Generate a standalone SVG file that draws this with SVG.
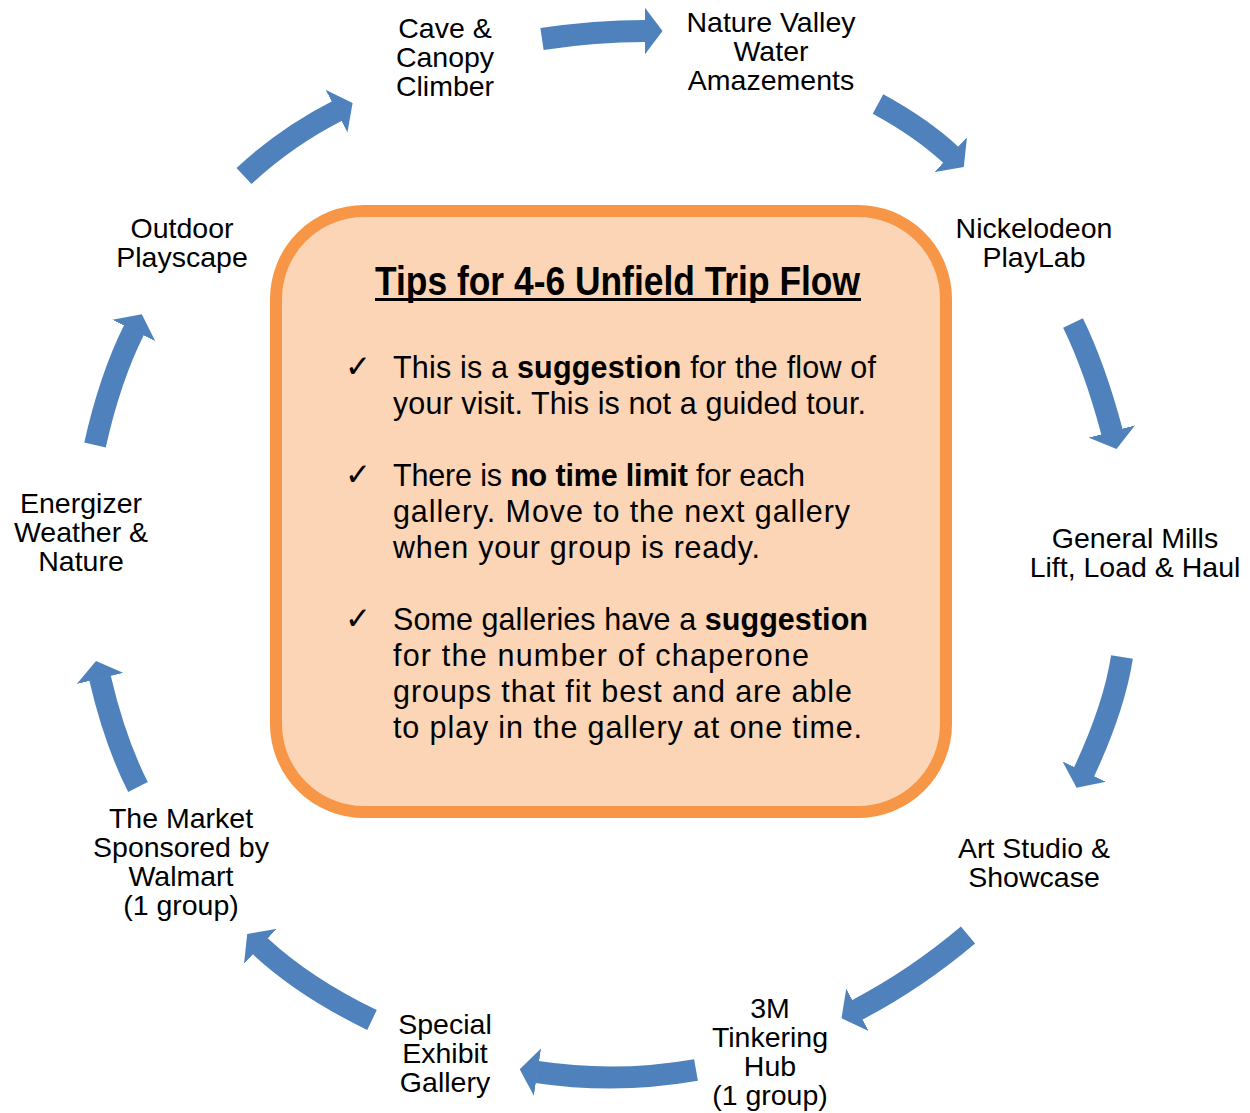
<svg xmlns="http://www.w3.org/2000/svg" width="1250" height="1113" viewBox="0 0 1250 1113">
<defs>
<marker id="head" markerUnits="userSpaceOnUse" markerWidth="18" markerHeight="48" viewBox="0 0 18 48" refX="0.5" refY="24" orient="auto">
<path d="M0,0 L18,24 L0,48 Z" fill="#4F81BD"/>
</marker>
<style>
.lbl{font-family:"Liberation Sans",Arial,sans-serif;font-size:28.5px;fill:#000;text-anchor:middle}
.body{font-family:"Liberation Sans",Arial,sans-serif;font-size:30.5px;fill:#000}
.chk{font-family:"DejaVu Sans",sans-serif;font-size:31px;fill:#000}
.arr{fill:none;stroke:#4F81BD;stroke-width:22;stroke-linecap:butt;marker-end:url(#head)}
</style>
</defs>
<rect width="1250" height="1113" fill="#fff"/>

<g id="tips">
<rect x="276" y="211" width="670" height="601" rx="88" ry="88" fill="#FBD5B5" stroke="#F79646" stroke-width="12"/>
<text x="375" y="295" textLength="485" lengthAdjust="spacingAndGlyphs" style="font-family:'Liberation Sans Narrow','Liberation Sans',Arial,sans-serif;font-size:40px;font-weight:bold;font-stretch:condensed" fill="#000">Tips for 4-6 Unfield Trip Flow</text>
<line x1="375" y1="299.5" x2="861" y2="299.5" stroke="#000" stroke-width="3"/>
<text class="chk" x="345" y="377">✓</text>
<text class="body" x="393" y="378" textLength="483">This is a <tspan font-weight="bold">suggestion</tspan> for the flow of</text>
<text class="body" x="393" y="414" textLength="473">your visit. This is not a guided tour.</text>
<text class="chk" x="345" y="485">✓</text>
<text class="body" x="393" y="486" textLength="412">There is <tspan font-weight="bold">no time limit</tspan> for each</text>
<text class="body" x="393" y="522" textLength="457">gallery. Move to the next gallery</text>
<text class="body" x="393" y="558" textLength="367">when your group is ready.</text>
<text class="chk" x="345" y="629">✓</text>
<text class="body" x="393" y="630" textLength="475">Some galleries have a <tspan font-weight="bold">suggestion</tspan></text>
<text class="body" x="393" y="666" textLength="416">for the number of chaperone</text>
<text class="body" x="393" y="702" textLength="459">groups that fit best and are able</text>
<text class="body" x="393" y="738" textLength="469">to play in the gallery at one time.</text>
</g>

<g id="cave"><text class="lbl" x="445" y="38">Cave &amp;</text><text class="lbl" x="445" y="67">Canopy</text><text class="lbl" x="445" y="96">Climber</text></g>
<g id="nature-valley"><text class="lbl" x="771" y="32">Nature Valley</text><text class="lbl" x="771" y="61">Water</text><text class="lbl" x="771" y="90">Amazements</text></g>
<g id="nickelodeon"><text class="lbl" x="1034" y="238">Nickelodeon</text><text class="lbl" x="1034" y="267">PlayLab</text></g>
<g id="general-mills"><text class="lbl" x="1135" y="548">General Mills</text><text class="lbl" x="1135" y="577">Lift, Load &amp; Haul</text></g>
<g id="art-studio"><text class="lbl" x="1034" y="858">Art Studio &amp;</text><text class="lbl" x="1034" y="887">Showcase</text></g>
<g id="tinkering"><text class="lbl" x="770" y="1018">3M</text><text class="lbl" x="770" y="1047">Tinkering</text><text class="lbl" x="770" y="1076">Hub</text><text class="lbl" x="770" y="1105">(1 group)</text></g>
<g id="special"><text class="lbl" x="445" y="1034">Special</text><text class="lbl" x="445" y="1063">Exhibit</text><text class="lbl" x="445" y="1092">Gallery</text></g>
<g id="market"><text class="lbl" x="181" y="828">The Market</text><text class="lbl" x="181" y="857">Sponsored by</text><text class="lbl" x="181" y="886">Walmart</text><text class="lbl" x="181" y="915">(1 group)</text></g>
<g id="energizer"><text class="lbl" x="81" y="513">Energizer</text><text class="lbl" x="81" y="542">Weather &amp;</text><text class="lbl" x="81" y="571">Nature</text></g>
<g id="outdoor"><text class="lbl" x="182" y="238">Outdoor</text><text class="lbl" x="182" y="267">Playscape</text></g>

<g id="connectors">
<path class="arr" d="M542,39 Q595,31 645,31"/>
<path class="arr" d="M878,104 Q922,128 951,155"/>
<path class="arr" d="M1073,323 Q1095,368 1112,432"/>
<path class="arr" d="M1122,657 Q1114,708 1084,772"/>
<path class="arr" d="M968,935 Q916,979 857,1010"/>
<path class="arr" d="M696,1070 Q616,1084 537,1072"/>
<path class="arr" d="M372,1020 Q304,987 260,946"/>
<path class="arr" d="M138,787 Q115,742 100,678"/>
<path class="arr" d="M95,445 Q110,378 134,330"/>
<path class="arr" d="M244,176 Q286,137 337,111"/>
</g>
</svg>
